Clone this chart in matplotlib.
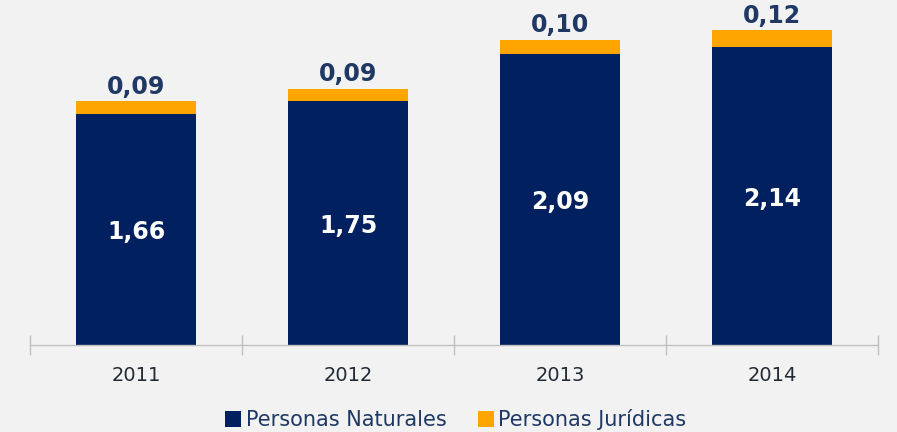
import matplotlib
matplotlib.use("Agg")
import matplotlib.pyplot as plt
from matplotlib.patches import Patch

years = ["2011", "2012", "2013", "2014"]
naturales = [1.66, 1.75, 2.09, 2.14]
juridicas = [0.09, 0.09, 0.10, 0.12]
series_names = ["Personas Naturales", "Personas Jurídicas"]

navy = "#002060"
orange = "#ffa500"
bg = "#f2f2f2"
textc = "#1f3864"

def fmt(v):
    return f"{v:.2f}".replace(".", ",")

fig = plt.figure(figsize=(8.97, 4.32), dpi=100, facecolor=bg)
ax = fig.add_axes([30/897, 87/432, 848/897, 334/432], facecolor=bg)

x = range(len(years))
width = 0.57
b1 = ax.bar(x, naturales, width, color=navy, zorder=2)
b2 = ax.bar(x, juridicas, width, bottom=naturales, color=orange, zorder=2)

for i, (n, j) in enumerate(zip(naturales, juridicas)):
    ax.text(i, n / 2 - 0.02, fmt(n), ha="center", va="center", color="white",
            fontsize=17, fontweight="bold")
    ax.annotate(fmt(j), (i, n + j), xytext=(0, 2), textcoords="offset points",
                ha="center", va="bottom", color=textc, fontsize=17, fontweight="bold")

ax.set_xlim(-0.5, 3.5)
ax.set_ylim(0, 2.4)
ax.set_yticks([])
for s in ["top", "right", "left"]:
    ax.spines[s].set_visible(False)
ax.spines["bottom"].set_color("#bfbfbf")
ax.spines["bottom"].set_linewidth(1)

ax.set_xticks([i for i in x])
ax.set_xticklabels(years, fontsize=14, color="#222a35")
ax.tick_params(axis="x", length=0, pad=15)
ax.set_xticks([-0.5, 0.5, 1.5, 2.5, 3.5], minor=True)
ax.tick_params(axis="x", which="minor", direction="inout", length=15, color="#bfbfbf", width=1)

handles = [Patch(facecolor=navy), Patch(facecolor=orange)]
fig.legend(handles, series_names, loc="center", bbox_to_anchor=(0.508, 12/432), ncol=2,
           frameon=False, fontsize=15, labelcolor=textc, handlelength=0.8,
           handleheight=0.8, handletextpad=0.2, columnspacing=1.5)

fig.savefig("out.png", dpi=100, facecolor=bg)
